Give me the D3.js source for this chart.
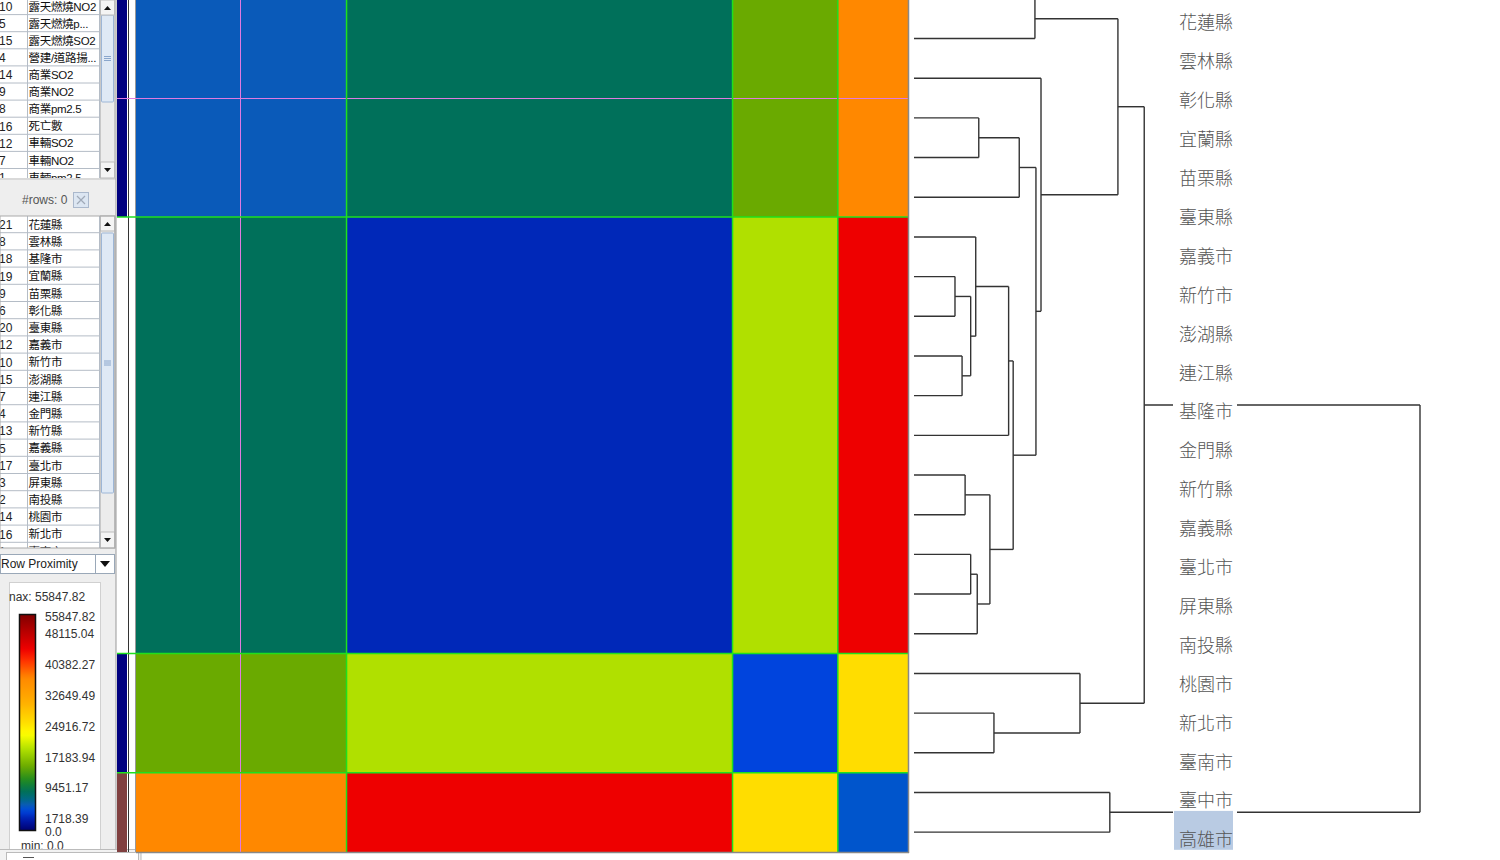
<!DOCTYPE html>
<html><head><meta charset="utf-8">
<script src="https://cdn.jsdelivr.net/npm/d3@7"></script>
<style>
body{margin:0;background:#fff;overflow:hidden}
svg{display:block}
text{font-family:"Liberation Sans","Noto Sans CJK TC",sans-serif}
</style></head>
<body>
<svg id="c" width="1500" height="860"></svg>
<script>
// ---------------- DATA ----------------
const leafLabels = ["花蓮縣","雲林縣","彰化縣","宜蘭縣","苗栗縣","臺東縣","嘉義市","新竹市","澎湖縣","連江縣","基隆市","金門縣","新竹縣","嘉義縣","臺北市","屏東縣","南投縣","桃園市","新北市","臺南市","臺中市","高雄市"];
const selectedLabel = "高雄市";
const clusterNames = ["C1","C2","C3","C4"];
const clusterSizes = [6, 11, 3, 2];
// mean row proximity between clusters (row cluster x column cluster)
const clusterProximity = [
  [6500, 10000, 16500, 39500],
  [10000, 3500, 21000, 47000],
  [16500, 21000, 5000, 28000],
  [39500, 47000, 28000, 6000]
];
const rowAnnotation = ["A", "none", "A", "B"];
const selectedCell = 3; // selected row/column boundary index
// linkage: [childA, childB, mergeHeight]  (leaves 0..21, merges numbered 22..)
const linkage = [
  [0,1,23.9],[3,4,12.8],[23,5,20.8],[7,8,8.1],[9,10,9.5],[25,26,11.2],[6,27,12.2],
  [28,11,18.7],[12,13,10.1],[14,15,11.2],[31,16,12.5],[30,32,15.0],[29,33,19.6],
  [24,34,24.1],[2,35,25.1],[22,36,40.3],[18,19,15.8],[17,38,32.8],[37,39,45.5],
  [20,21,38.7],[40,41,100]
];
const legendMax = 55847.82, legendMin = 0.0;
const legendTicks = [55847.82, 48115.04, 40382.27, 32649.49, 24916.72, 17183.94, 9451.17, 1718.39, 0.0];
const colorStops = [0,2500,3500,5000,6000,6500,8000,10000,13000,16500,21000,24900,28000,33000,39500,44000,47000,55847.82];
const colorList = ["#00006e","#0018a8","#0028b8","#0044dd","#0055cc","#0a5ab9","#006888","#00705a","#208a20","#6aaa00","#b0e000","#ffff00","#ffdd00","#ffb000","#ff8800","#ff3000","#ee0000","#800000"];
const topTable = [["10","露天燃燒NO2"],["5","露天燃燒p..."],["15","露天燃燒SO2"],["4","營建/道路揚..."],["14","商業SO2"],["9","商業NO2"],["8","商業pm2.5"],["16","死亡數"],["12","車輛SO2"],["7","車輛NO2"],["1","車輛pm2.5"]];
const bottomTable = [["21","花蓮縣"],["8","雲林縣"],["18","基隆市"],["19","宜蘭縣"],["9","苗栗縣"],["6","彰化縣"],["20","臺東縣"],["12","嘉義市"],["10","新竹市"],["15","澎湖縣"],["7","連江縣"],["4","金門縣"],["13","新竹縣"],["5","嘉義縣"],["17","臺北市"],["3","屏東縣"],["2","南投縣"],["14","桃園市"],["16","新北市"],["1","臺南市"]];

// ---------------- SETUP ----------------
const svg = d3.select("#c");
const color = d3.scaleLinear().domain(colorStops).range(colorList).clamp(true);
const n = leafLabels.length;
const idx = d3.range(n);
const x = d3.scaleBand().domain(idx).range([136, 908]);
const y = d3.scaleBand().domain(idx).range([-21, 852]);
const hx = d3.scaleLinear().domain([0, 100]).range([914, 1420]);
const starts = clusterSizes.map((s,i)=>d3.sum(clusterSizes.slice(0,i)));

// ---------------- LEFT PANEL ----------------
const lp = svg.append("g");
lp.append("rect").attr("x",0).attr("y",0).attr("width",116).attr("height",860).attr("fill","#eeeeee");

function drawTable(g, rows, top, pitch, bottom){
  const clipId = "clip"+top;
  svg.append("clipPath").attr("id",clipId).append("rect").attr("x",0).attr("y",Math.max(top,0)).attr("width",100).attr("height",bottom-Math.max(top,0));
  const t = g.append("g").attr("clip-path",`url(#${clipId})`);
  t.append("rect").attr("x",0).attr("y",Math.max(top,0)).attr("width",100).attr("height",bottom-Math.max(top,0)).attr("fill","#fff");
  rows.forEach((r,i)=>{
    const ry = top + i*pitch;
    t.append("line").attr("x1",0).attr("x2",100).attr("y1",ry+pitch-0.5).attr("y2",ry+pitch-0.5).attr("stroke","#b4bcc6");
    t.append("text").attr("x",-1).attr("y",ry+pitch/2).attr("dy","0.36em").attr("font-size",12).attr("fill","#222").text(r[0]);
    t.append("text").attr("x",28.5).attr("y",ry+pitch/2).attr("dy","0.36em").attr("font-size",11.5).attr("letter-spacing",-0.3).attr("fill","#111").text(r[1]);
  });
  t.append("line").attr("x1",27.5).attr("x2",27.5).attr("y1",0).attr("y2",860).attr("stroke","#b4bcc6");
  t.append("line").attr("x1",99.5).attr("x2",99.5).attr("y1",0).attr("y2",860).attr("stroke","#b4bcc6");
}
function drawScroll(g, top, bottom, thumbTop, thumbBot){
  g.append("rect").attr("x",100.5).attr("y",top).attr("width",14).attr("height",bottom-top).attr("fill","#ececec").attr("stroke","#c8c8c8");
  g.append("rect").attr("x",101.5).attr("y",thumbTop).attr("width",12).attr("height",thumbBot-thumbTop).attr("fill","#dfe9f5").attr("stroke","#9db6d6").attr("rx",1);
  const gm=(thumbTop+thumbBot)/2;
  [-2,0,2].forEach(d=>g.append("line").attr("x1",104).attr("x2",111).attr("y1",gm+d).attr("y2",gm+d).attr("stroke","#8aa6cc"));
  g.append("rect").attr("x",100.5).attr("y",top).attr("width",14).attr("height",15).attr("fill","#f4f4f4").attr("stroke","#bbb");
  g.append("rect").attr("x",100.5).attr("y",bottom-16).attr("width",14).attr("height",16).attr("fill","#f4f4f4").attr("stroke","#bbb");
  g.append("path").attr("d",`M104,${top+10}L107.5,${top+6}L111,${top+10}Z`).attr("fill","#111");
  g.append("path").attr("d",`M104,${bottom-10}L107.5,${bottom-6}L111,${bottom-10}Z`).attr("fill","#111");
}
drawTable(lp, topTable, -2, 17.1, 178);
drawScroll(lp, 0, 178, 15, 102);
lp.append("line").attr("x1",0).attr("x2",116).attr("y1",179).attr("y2",179).attr("stroke","#c4c4c4");
lp.append("text").attr("x",22).attr("y",200).attr("dy","0.36em").attr("font-size",12).attr("fill","#555").text("#rows: 0");
lp.append("rect").attr("x",73.5).attr("y",192.5).attr("width",15).attr("height",15).attr("fill","#dce6f2").attr("stroke","#aab8cc");
lp.append("path").attr("d","M77,196L85,204M85,196L77,204").attr("stroke","#a0aab8").attr("stroke-width",1.2);
drawTable(lp, bottomTable, 216, 17.2, 548);
drawScroll(lp, 216, 548, 233, 493);
lp.append("rect").attr("x",0).attr("y",216).attr("width",115).attr("height",332).attr("fill","none").attr("stroke","#aaa");
// dropdown
lp.append("rect").attr("x",0.5).attr("y",554.5).attr("width",114).attr("height",19).attr("fill","#fff").attr("stroke","#9aa8b8");
lp.append("text").attr("x",1).attr("y",564).attr("dy","0.36em").attr("font-size",12).attr("fill","#222").text("Row Proximity");
lp.append("line").attr("x1",95.5).attr("x2",95.5).attr("y1",555).attr("y2",573).attr("stroke","#9aa8b8");
lp.append("path").attr("d","M100,561L110,561L105,567Z").attr("fill","#111");

// legend box
lp.append("rect").attr("x",9.5).attr("y",582.5).attr("width",91).attr("height",290).attr("fill","#fff").attr("stroke","#d0d0d0");
lp.append("text").attr("x",9).attr("y",597).attr("dy","0.36em").attr("font-size",12).attr("fill","#333").text("nax: " + legendMax.toFixed(2));
const ramp = d3.scaleLinear().domain([legendMin, legendMax]).range([830, 615]);
const defs = svg.append("defs");
const grad = defs.append("linearGradient").attr("id","ramp").attr("x1",0).attr("x2",0).attr("y1",1).attr("y2",0);
d3.range(0,1.0001,0.02).forEach(t=>grad.append("stop").attr("offset",t).attr("stop-color",color(legendMin+t*(legendMax-legendMin))));
lp.append("rect").attr("x",19.5).attr("y",ramp(legendMax)-0.5).attr("width",16).attr("height",ramp(legendMin)-ramp(legendMax)+1).attr("fill","url(#ramp)").attr("stroke","#111").attr("stroke-width",1.5);
const tickY = d3.scaleLinear().domain([legendTicks[7], legendTicks[1]]).range([819, 634]);
legendTicks.forEach((v,i)=>{
  let ty = tickY(v);
  if (i===0) ty = ramp(legendMax)+2;
  if (v===0) ty = tickY(legendTicks[7]) + 13;
  lp.append("text").attr("x",45).attr("y",ty).attr("dy","0.36em").attr("font-size",12).attr("fill","#333").text(v===0?"0.0":v.toFixed(2));
});
lp.append("text").attr("x",21).attr("y",846).attr("dy","0.36em").attr("font-size",12).attr("fill","#333").text("min: " + legendMin.toFixed(1));
// bottom small window
lp.append("rect").attr("x",-1).attr("y",849.5).attr("width",142).attr("height",14).attr("fill","#f2f2f2").attr("stroke","#bbb");
lp.append("rect").attr("x",6.5).attr("y",852.5).attr("width",132).attr("height",10).attr("fill","#fff").attr("stroke","#bbb");
lp.append("line").attr("x1",23).attr("x2",34).attr("y1",857.5).attr("y2",857.5).attr("stroke","#555");
lp.append("line").attr("x1",116).attr("x2",116).attr("y1",0).attr("y2",849).attr("stroke","#999");

// ---------------- ROW ANNOTATION STRIP ----------------
const annColor = d3.scaleOrdinal().domain(["A","none","B"]).range(["#000080","#ffffff","#804040"]);
svg.append("g").selectAll("rect").data(clusterNames).join("rect")
  .attr("x",117).attr("width",10)
  .attr("y",(d,i)=>y(starts[i]))
  .attr("height",(d,i)=>y.bandwidth()*clusterSizes[i])
  .attr("fill",(d,i)=>annColor(rowAnnotation[i]))
  .attr("shape-rendering","crispEdges");
svg.append("line").attr("x1",128.5).attr("x2",128.5).attr("y1",0).attr("y2",852).attr("stroke","#333");
svg.append("line").attr("x1",135.5).attr("x2",135.5).attr("y1",0).attr("y2",852).attr("stroke","#999");

// ---------------- HEATMAP ----------------
const blocks = [];
clusterSizes.forEach((rs,r)=>clusterSizes.forEach((cs,c)=>blocks.push({r,c,v:clusterProximity[r][c]})));
svg.append("g").selectAll("rect").data(blocks).join("rect")
  .attr("x",d=>x(starts[d.c]))
  .attr("y",d=>y(starts[d.r]))
  .attr("width",d=>x.bandwidth()*clusterSizes[d.c])
  .attr("height",d=>y.bandwidth()*clusterSizes[d.r])
  .attr("fill",d=>color(d.v))
  .attr("shape-rendering","crispEdges");
// selection lines
svg.append("line").attr("x1",117).attr("x2",908).attr("y1",Math.round(y(selectedCell))+0.5).attr("y2",Math.round(y(selectedCell))+0.5).attr("stroke","#e07ae0");
svg.append("line").attr("x1",Math.round(x(selectedCell))-0.5).attr("x2",Math.round(x(selectedCell))-0.5).attr("y1",0).attr("y2",852).attr("stroke","#e07ae0");
// cluster boundary lines
starts.slice(1).forEach(s=>{
  svg.append("line").attr("x1",117).attr("x2",908).attr("y1",y(s)).attr("y2",y(s)).attr("stroke","#1ee01e").attr("stroke-width",1.5);
  svg.append("line").attr("x1",x(s)).attr("x2",x(s)).attr("y1",0).attr("y2",852).attr("stroke","#1ee01e").attr("stroke-width",1.5);
});
svg.append("line").attr("x1",908.5).attr("x2",908.5).attr("y1",0).attr("y2",853).attr("stroke","#888").attr("stroke-width",1.5);
svg.append("line").attr("x1",136).attr("x2",909).attr("y1",852.5).attr("y2",852.5).attr("stroke","#888").attr("stroke-width",1.5);

// ---------------- DENDROGRAM ----------------
const nodeY = {}, nodeH = {};
idx.forEach(i=>{ nodeY[i] = y(i)+y.bandwidth()/2; nodeH[i] = 0; });
const dg = svg.append("g").attr("stroke","#333").attr("stroke-width",1.4).attr("fill","none");
linkage.forEach((m,k)=>{
  const id = n + k, [a,b,h] = m;
  nodeY[id] = (nodeY[a]+nodeY[b])/2; nodeH[id] = h;
  [a,b].forEach(c=>dg.append("line").attr("x1",hx(nodeH[c])).attr("x2",hx(h)).attr("y1",nodeY[c]).attr("y2",nodeY[c]));
  dg.append("line").attr("x1",hx(h)).attr("x2",hx(h)).attr("y1",nodeY[a]).attr("y2",nodeY[b]);
});

// ---------------- LEAF LABELS ----------------
const ly = d3.scaleBand().domain(leafLabels).range([-6, -6 + 38.9*n]);
const lg = svg.append("g");
lg.selectAll("rect.bg").data(leafLabels).join("rect").attr("class","bg")
  .attr("x",1173).attr("y",d=>ly(d)).attr("width",64).attr("height",ly.bandwidth()).attr("fill","#fff");
lg.append("rect").attr("x",1174).attr("y",ly(selectedLabel)).attr("width",59).attr("height",ly.bandwidth()).attr("fill","#b9cbe3");
lg.selectAll("text").data(leafLabels).join("text")
  .attr("x",1179).attr("y",d=>ly(d)+29).attr("dy","0.36em")
  .attr("font-family","'Noto Sans CJK TC',sans-serif").attr("font-size",18).attr("font-weight",300)
  .attr("fill","#555").text(d=>d);
</script>
</body></html>
